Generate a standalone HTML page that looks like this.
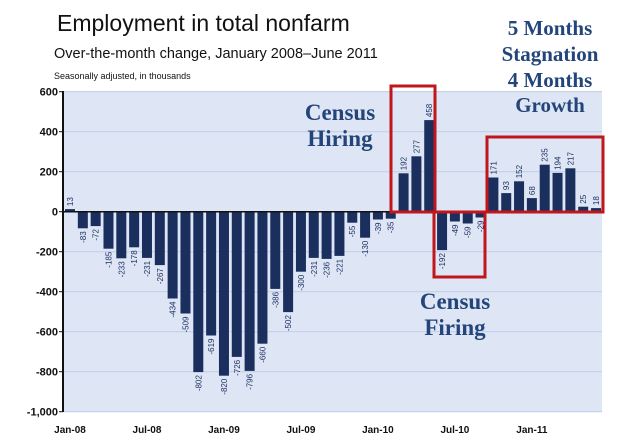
<!DOCTYPE html>
<html><head><meta charset="utf-8"><style>
html,body{margin:0;padding:0;background:#fff;}
svg{display:block;}
.ann{font-family:"Liberation Serif",serif;font-weight:bold;fill:#23457a;}
</style></head><body>
<svg id="chart" width="620" height="446" viewBox="0 0 620 446" xmlns="http://www.w3.org/2000/svg">
<text x="57" y="31" font-family="Liberation Sans, sans-serif" font-size="23" fill="#111">Employment in total nonfarm</text>
<text x="54" y="58" font-family="Liberation Sans, sans-serif" font-size="14.5" fill="#111">Over-the-month change, January 2008–June 2011</text>
<text x="54" y="79" font-family="Liberation Sans, sans-serif" font-size="9" fill="#111">Seasonally adjusted, in thousands</text>
<rect x="63" y="91" width="539" height="321" fill="#dee5f5"/>
<g id="grid"></g>
<g id="bars"></g>
<g id="labels"></g>
<g id="axes"></g>
<rect x="391" y="86" width="44" height="126" fill="none" stroke="#c0161c" stroke-width="3"/>
<rect x="434" y="212" width="51" height="65" fill="none" stroke="#c0161c" stroke-width="3"/>
<rect x="487" y="137" width="116" height="75" fill="none" stroke="#c0161c" stroke-width="3"/>
<text class="ann" font-size="23"><tspan x="340" y="120" text-anchor="middle">Census</tspan><tspan x="340" y="146" text-anchor="middle">Hiring</tspan></text>
<text class="ann" font-size="23"><tspan x="455" y="309" text-anchor="middle">Census</tspan><tspan x="455" y="335" text-anchor="middle">Firing</tspan></text>
<text class="ann" font-size="21"><tspan x="550" y="35" text-anchor="middle">5 Months</tspan><tspan x="550" y="61" text-anchor="middle">Stagnation</tspan><tspan x="550" y="87" text-anchor="middle">4 Months</tspan><tspan x="550" y="112" text-anchor="middle">Growth</tspan></text>
</svg>
<script>
const values=[13,-83,-72,-185,-233,-178,-231,-267,-434,-509,-802,-619,-820,-726,-796,-660,-386,-502,-300,-231,-236,-221,-55,-130,-39,-35,192,277,458,-192,-49,-59,-29,171,93,152,68,235,194,217,25,18];
const yTicks=[600,400,200,0,-200,-400,-600,-800,-1000];
const yTickLabels=["600","400","200","0","-200","-400","-600","-800","-1,000"];
const xTickIdx=[0,6,12,18,24,30,36];
const xTickLabels=["Jan-08","Jul-08","Jan-09","Jul-09","Jan-10","Jul-10","Jan-11"];
const NS="http://www.w3.org/2000/svg";
const y=v=>211.7-v*0.2;
const xc=i=>70+i*12.83;
const bw=10;
function mk(t,a,p){const e=document.createElementNS(NS,t);for(const k in a)e.setAttribute(k,a[k]);p.appendChild(e);return e;}
const grid=document.getElementById('grid'),bars=document.getElementById('bars'),labels=document.getElementById('labels'),axes=document.getElementById('axes');
yTicks.forEach((v,i)=>{
  if(v!==0){const g=mk('line',{x1:63,x2:602,y1:y(v),y2:y(v),stroke:'#c3cfeb','stroke-width':1.2},grid);
  
  }
  const t=mk('text',{x:58,y:y(v)+4,'text-anchor':'end','font-family':'Liberation Sans, sans-serif','font-size':11,'font-weight':'bold',fill:'#111'},axes);
  t.textContent=yTickLabels[i];
  
  
  const tk=mk('line',{x1:59,x2:63,y1:y(v),y2:y(v),stroke:'#111'},axes);
  
  
});
values.forEach((v,i)=>{
  const top=Math.min(y(v),y(0)),h=Math.max(Math.abs(y(v)-y(0)),1);
  const r=mk('rect',{x:xc(i)-bw/2,y:top,width:bw,height:h,fill:'#1b2f5e'},bars);
  
  
  const lx=xc(i)+3,ly=v>=0?y(v)-3:y(v)+3;
  const t=mk('text',{x:lx,y:ly,'text-anchor':v>=0?'start':'end','font-family':'Liberation Sans, sans-serif','font-size':8,fill:'#1b2f5e',transform:`rotate(-90 ${lx} ${ly})`},labels);
  t.textContent=v;
  
  
});
const ya=mk('line',{x1:63,x2:63,y1:91,y2:412,stroke:'#111','stroke-width':2},axes);


const xa=mk('line',{x1:63,x2:602,y1:y(0),y2:y(0),stroke:'#111','stroke-width':1.5},axes);


xTickIdx.forEach((idx,i)=>{
  const t=mk('text',{x:xc(idx),y:433,'text-anchor':'middle','font-family':'Liberation Sans, sans-serif','font-size':10,'font-weight':'bold',fill:'#111'},axes);
  t.textContent=xTickLabels[i];
  
  
});
</script>
</body></html>
